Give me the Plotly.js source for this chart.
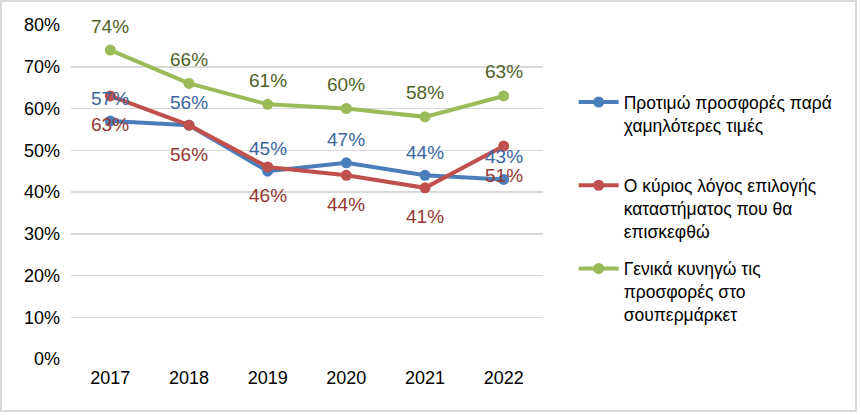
<!DOCTYPE html>
<html>
<head>
<meta charset="utf-8">
<script src="https://cdn.plot.ly/plotly-3.0.1.min.js"></script>
<style>
  body { margin: 0; background: #fff; }
  #frame { position: absolute; left: 0; top: 0; width: 853px; height: 408px; border: 2px solid #d9d9d9; }
  #plot { position: absolute; left: -2px; top: -2px; width: 860px; height: 415px; }
</style>
</head>
<body>
<div id="frame"><div id="plot"></div></div>
<script>
const years = [2017, 2018, 2019, 2020, 2021, 2022];

const prefLowPrice = [57, 56, 45, 47, 44, 43];
const storeChoice = [63, 56, 46, 44, 41, 51];
const huntOffers = [74, 66, 61, 60, 58, 63];

const names = [
    "Προτιμώ προσφορές παρά<br>χαμηλότερες τιμές<br> ",
    "Ο κύριος λόγος επιλογής<br>καταστήματος που θα<br>επισκεφθώ",
    "Γενικά κυνηγώ τις<br>προσφορές στο<br>σουπερμάρκετ"
];

const yTicks = [0, 10, 20, 30, 40, 50, 60, 70, 80];

const fnt = "Liberation Sans Narrow, Arial Narrow, Liberation Sans, Arial, sans-serif";
const fs = 18;

const series = [
    { y: prefLowPrice, name: names[0], line: "#4a7ebb", label: "#3c65a0", shift: 23 },
    { y: storeChoice, name: names[1], line: "#c0504d", label: "#953735", shift: -29 },
    { y: huntOffers, name: names[2], line: "#9bbb59", label: "#4f6228", shift: 24 }
];

const data = series.map((s, k) => ({
    x: years,
    y: s.y,
    name: s.name,
    legendgroup: "g" + k,
    type: "scatter",
    mode: "lines+markers",
    line: { color: s.line, width: 4 },
    marker: { color: s.line, size: 11 },
    hoverinfo: "skip"
}));

// etiquetas de dados
let annotations = [];
series.forEach(s => {
    s.y.forEach((v, i) => {
        annotations.push({
            x: years[i],
            y: v,
            xref: "x",
            yref: "y",
            text: v + "%",
            showarrow: false,
            yshift: s.shift,
            font: { family: fnt, size: 19, color: s.label }
        });
    });
});

const layout = {
    width: 860,
    height: 415,
    margin: { l: 71, r: 317, t: 25, b: 56 },
    paper_bgcolor: "rgba(0,0,0,0)",
    plot_bgcolor: "rgba(0,0,0,0)",
    font: { family: fnt, size: fs, color: "#000" },
    xaxis: {
        type: "linear",
        range: [2016.5, 2022.5],
        tickvals: years,
        ticktext: years.map(String),
        showgrid: false,
        zeroline: false,
        showline: false,
        ticks: "",
        ticklabelstandoff: 6,
        tickfont: { family: fnt, size: fs, color: "#000" }
    },
    yaxis: {
        range: [0, 80],
        tickvals: yTicks,
        ticktext: yTicks.map(t => t + "%"),
        showgrid: true,
        gridcolor: "#d9d9d9",
        gridwidth: 1.5,
        zeroline: false,
        showline: false,
        ticks: "",
        ticklabelstandoff: 10,
        tickfont: { family: fnt, size: fs, color: "#000" }
    },
    showlegend: true,
    legend: {
        x: 1.065,
        xanchor: "left",
        y: 0.823,
        yanchor: "top",
        valign: "top",
        itemwidth: 40,
        tracegroupgap: 12,
        font: { family: fnt, size: 17.5, color: "#000" },
        bgcolor: "rgba(0,0,0,0)"
    },
    annotations: annotations
};

Plotly.newPlot("plot", data, layout, { displayModeBar: false, staticPlot: true });
</script>
</body>
</html>
